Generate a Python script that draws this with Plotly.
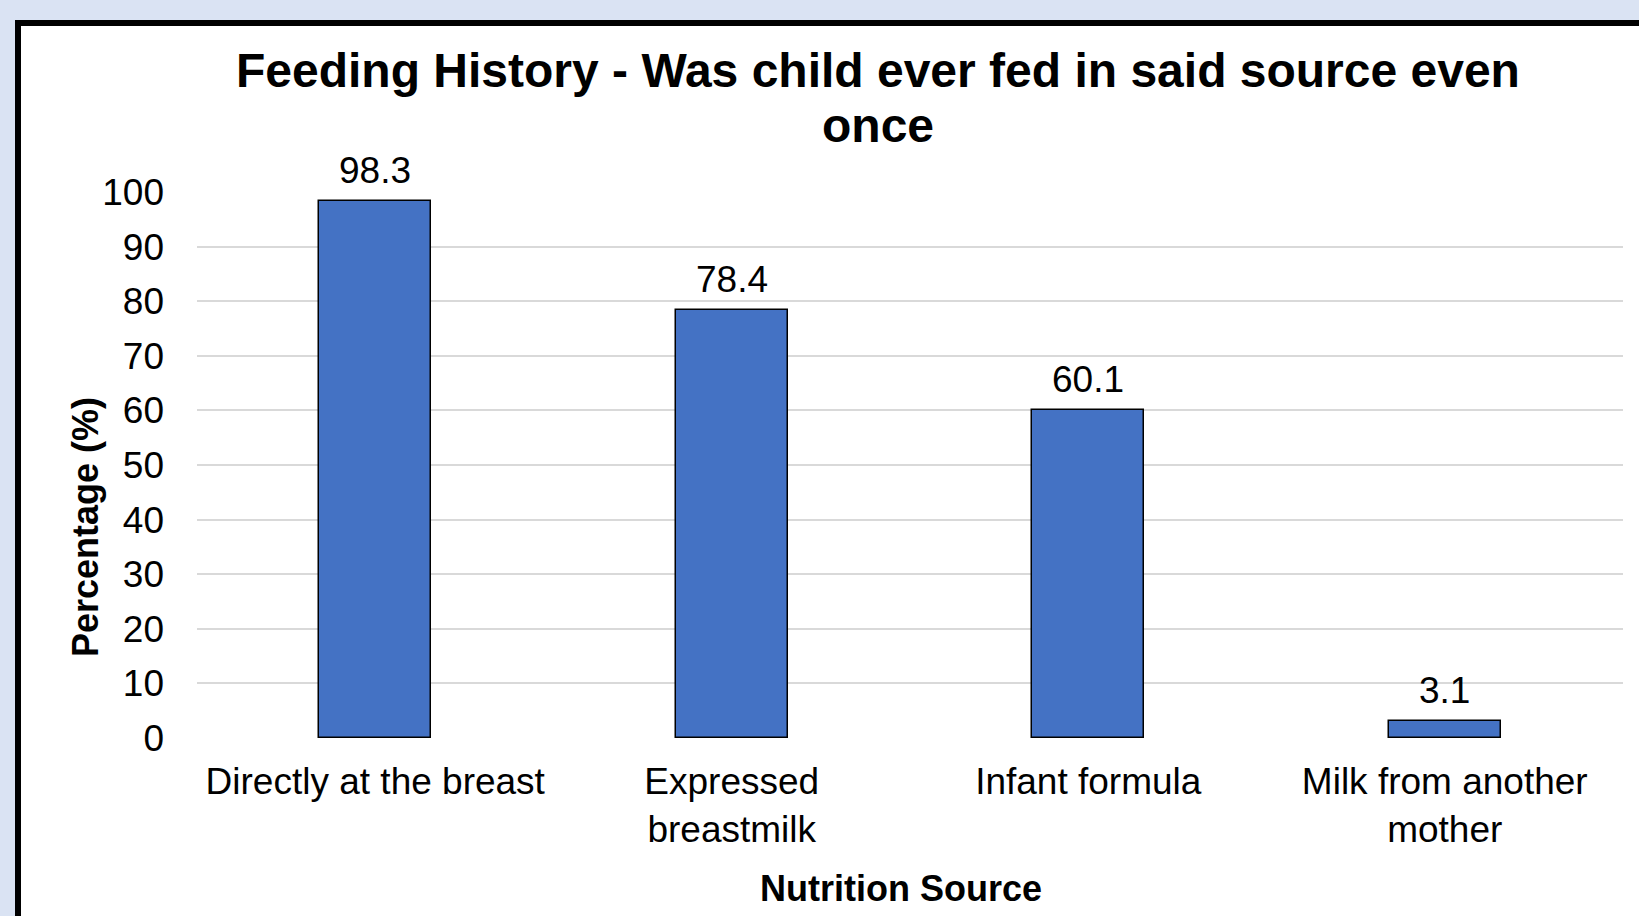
import plotly.graph_objects as go

# Feeding history survey results
categories = ["Directly at the breast", "Expressed<br>breastmilk", "Infant formula", "Milk from another<br>mother"]
percentages = [98.3, 78.4, 60.1, 3.1]
y_ticks = [0, 10, 20, 30, 40, 50, 60, 70, 80, 90, 100]
title_lines = ["Feeding History - Was child ever fed in said source even", "once"]

FONT = "Liberation Sans, Arial, sans-serif"
W, H = 1639, 916
L, R, T, B = 197, 16, 192, 178
PW, PH = W - L - R, H - T - B


def px_x(x):
    return (x - L) / PW


def px_y(y):
    return (H - B - y) / PH


fig = go.Figure()
fig.add_trace(go.Bar(
    x=categories,
    y=percentages,
    width=0.315,
    marker=dict(color="#4472c4", line=dict(color="#000000", width=1.5)),
    cliponaxis=False,
))

# value labels above each bar
value_labels = [
    dict(x=c, y=v, xref="x", yref="y", text=f"{v}", showarrow=False,
         xanchor="center", yanchor="bottom", yshift=8,
         font=dict(size=37, color="#000000"))
    for c, v in zip(categories, percentages)
]

# two-line chart title with tighter line spacing
title_annotations = [
    dict(text=f"<b>{line}</b>", xref="paper", yref="paper",
         x=px_x(878), y=px_y(yc), xanchor="center", yanchor="middle",
         showarrow=False, font=dict(size=48, color="#000000"))
    for line, yc in zip(title_lines, [71, 125])
]

fig.update_layout(
    width=W, height=H,
    margin=dict(l=L, r=R, t=T, b=B, pad=0),
    paper_bgcolor="#dae3f3",
    plot_bgcolor="rgba(0,0,0,0)",
    showlegend=False,
    bargap=0,
    font=dict(family=FONT, color="#000000"),
    xaxis=dict(
        showgrid=False, zeroline=False, showline=False,
        ticks="", tickfont=dict(size=37), ticklabelstandoff=18,
    ),
    yaxis=dict(
        range=[0, 100], tickvals=y_ticks, showgrid=True,
        gridcolor="#d9d9d9", gridwidth=1.5, zeroline=False, showline=False,
        ticks="", tickfont=dict(size=37), ticklabelstandoff=32,
    ),
    shapes=[dict(
        type="rect", xref="paper", yref="paper", layer="below",
        x0=px_x(18), x1=px_x(1660), y0=px_y(23), y1=px_y(940),
        fillcolor="#ffffff", line=dict(color="#000000", width=6),
    )],
    annotations=value_labels + title_annotations + [
        dict(text="<b>Nutrition Source</b>",
             xref="paper", yref="paper", x=px_x(901), y=px_y(888),
             xanchor="center", yanchor="middle", showarrow=False,
             font=dict(size=36, color="#000000")),
        dict(text="<b>Percentage (%)</b>", textangle=-90,
             xref="paper", yref="paper", x=px_x(85), y=px_y(527),
             xanchor="center", yanchor="middle", showarrow=False,
             font=dict(size=36, color="#000000")),
    ],
)

fig.write_html("out.html")
